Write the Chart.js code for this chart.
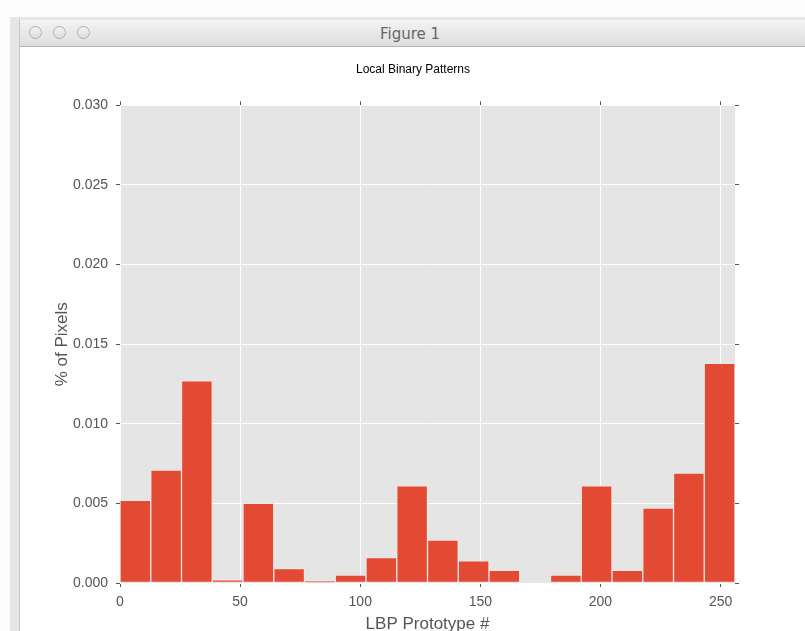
<!DOCTYPE html>
<html>
<head>
<meta charset="utf-8">
<script src="https://cdn.jsdelivr.net/npm/chart.js@4.4.0/dist/chart.umd.min.js"></script>
<style>
  html, body { margin: 0; padding: 0; }
  body { width: 805px; height: 631px; background: #fdfdfd; position: relative; overflow: hidden; font-family: "Liberation Sans", Arial, sans-serif; }
  .shadow { position: absolute; left: 10px; top: 17px; width: 800px; height: 620px; background: #e6e6e6; }
  .window { position: absolute; left: 19px; top: 20px; width: 790px; height: 615px; background: #fff; border-left: 1px solid #c8c8c8; }
  .titlebar { height: 26px; background: linear-gradient(#f3f3f3, #dedede); border-bottom: 1px solid #b4b4b4; position: relative; }
  .titlebar .name { position: absolute; left: 0; right: 0; top: 5px; text-align: center; font: 15px "DejaVu Sans", sans-serif; color: #666; padding-right: 10px; }
  .dot { position: absolute; top: 6px; width: 11px; height: 11px; border-radius: 50%; border: 1px solid #b0b0b0; background: linear-gradient(#f4f4f4, #dcdcdc); }
  .content { position: absolute; left: 0; top: 27px; width: 786px; height: 588px; }
</style>
</head>
<body>
<div class="shadow"></div>
<div class="window">
  <div class="titlebar">
    <div class="dot" style="left:9px"></div>
    <div class="dot" style="left:33px"></div>
    <div class="dot" style="left:57px"></div>
    <div class="name">Figure 1</div>
  </div>
  <div class="content"><canvas id="chart" width="786" height="584"></canvas></div>
</div>
<script>
// histogram: 20 bins of width 12.8 over 0..256
const binStarts = [0, 12.8, 25.6, 38.4, 51.2, 64, 76.8, 89.6, 102.4, 115.2,
                   128, 140.8, 153.6, 166.4, 179.2, 192, 204.8, 217.6, 230.4, 243.2];
const binWidth = 12.8;
const pixelShare = [0.0052, 0.0071, 0.0127, 0.0002, 0.0050, 0.0009, 0.0001, 0.0005, 0.0016, 0.0061,
                    0.0027, 0.0014, 0.0008, 0.0, 0.0005, 0.0061, 0.0008, 0.0047, 0.0069, 0.0138];
const xTicks = [0, 50, 100, 150, 200, 250];
const yTicks = [0, 0.005, 0.010, 0.015, 0.020, 0.025, 0.030];

const tickGrey = '#555555';

const panelBg = {
  id: 'panelBg',
  beforeDraw(chart) {
    const { ctx, chartArea: a } = chart;
    ctx.save();
    ctx.fillStyle = '#e5e5e5';
    ctx.fillRect(a.left, a.top, a.right - a.left, a.bottom - a.top);
    ctx.restore();
  }
};

new Chart(document.getElementById('chart'), {
  type: 'bar',
  data: {
    datasets: [{
      data: binStarts.map((s, i) => ({ x: s + binWidth / 2, y: pixelShare[i] })),
      backgroundColor: '#e24a33',
      borderColor: '#f2e6e2',
      borderWidth: 1,
      borderSkipped: false,
      barPercentage: 1,
      categoryPercentage: 1
    }]
  },
  options: {
    responsive: false,
    animation: false,
    layout: { padding: 0 },
    plugins: {
      legend: { display: false },
      tooltip: { enabled: false },
      title: {
        display: true,
        text: 'Local Binary Patterns',
        color: '#000',
        font: { family: 'Liberation Sans', size: 12, weight: 'normal' },
        padding: { top: 15, bottom: 25 }
      }
    },
    scales: {
      x: {
        type: 'linear',
        min: 0,
        max: 256,
        offset: false,
        afterFit: s => { s.height = 48; },
        afterBuildTicks: s => { s.ticks = xTicks.map(v => ({ value: v })); },
        border: { display: false },
        grid: { offset: false, color: '#ffffff', tickColor: tickGrey, tickLength: 4, lineWidth: 1 },
        ticks: { color: tickGrey, font: { family: 'Liberation Sans', size: 14 }, padding: 7, maxRotation: 0 },
        title: {
          display: true,
          text: 'LBP Prototype #',
          color: tickGrey,
          font: { family: 'Liberation Sans', size: 17 },
          padding: { top: 0, bottom: -4 }
        }
      },
      x2: {
        type: 'linear',
        position: 'top',
        min: 0,
        max: 256,
        offset: false,
        afterFit: s => { s.height = 4; },
        afterBuildTicks: s => { s.ticks = xTicks.map(v => ({ value: v })); },
        border: { display: false },
        grid: { offset: false, drawOnChartArea: false, tickColor: tickGrey, tickLength: 4 },
        ticks: { display: false }
      },
      y: {
        min: 0,
        max: 0.030,
        afterFit: s => { s.width = 100; },
        afterBuildTicks: s => { s.ticks = yTicks.map(v => ({ value: v })); },
        border: { display: false },
        grid: { color: '#ffffff', tickColor: tickGrey, tickLength: 4, lineWidth: 1 },
        ticks: {
          color: tickGrey,
          font: { family: 'Liberation Sans', size: 14 },
          padding: 8,
          callback: v => v.toFixed(3)
        },
        title: {
          display: true,
          text: '% of Pixels',
          color: tickGrey,
          font: { family: 'Liberation Sans', size: 17 },
          padding: { top: 32, bottom: 0 }
        }
      },
      y2: {
        position: 'right',
        min: 0,
        max: 0.030,
        afterFit: s => { s.width = 71; },
        afterBuildTicks: s => { s.ticks = yTicks.map(v => ({ value: v })); },
        border: { display: false },
        grid: { drawOnChartArea: false, tickColor: tickGrey, tickLength: 4 },
        ticks: { display: false }
      }
    }
  },
  plugins: [panelBg]
});
</script>
</body>
</html>
